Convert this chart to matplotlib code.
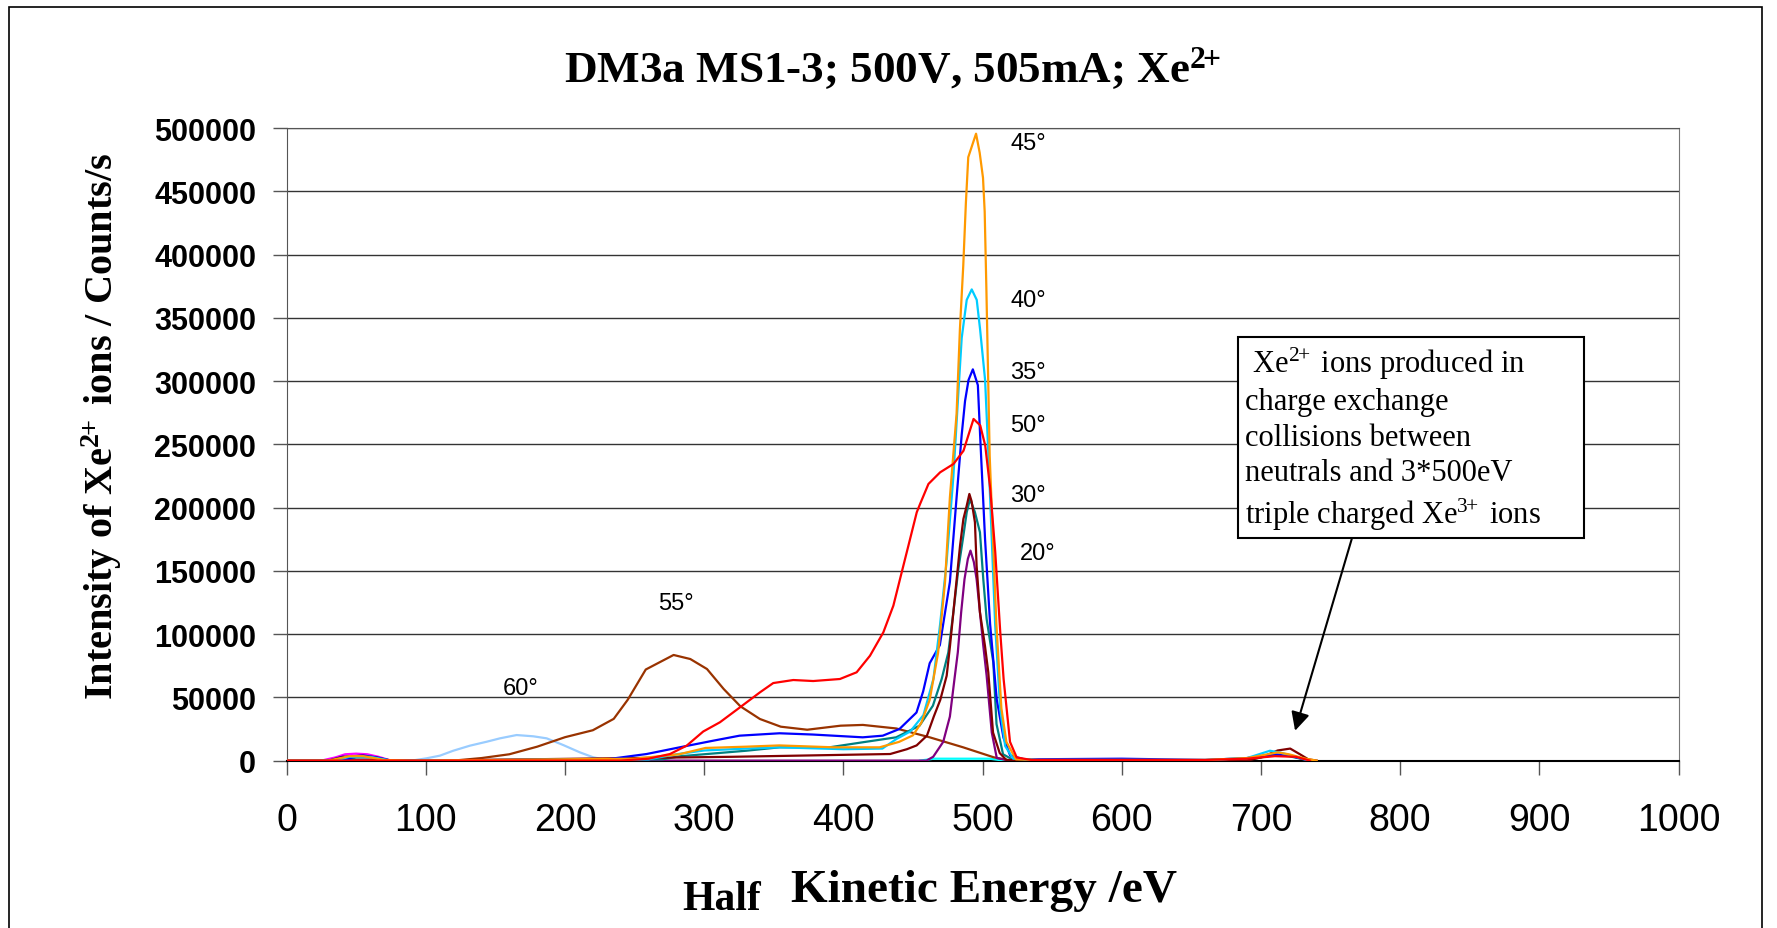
import matplotlib
matplotlib.use('Agg')
import matplotlib.pyplot as plt
from matplotlib.patches import Rectangle

# --- data (energy in eV, intensity in counts/s) ---
e45 = [0, 30, 45, 55, 70, 90, 250, 282, 301, 330, 354, 393, 426, 440, 450, 456, 462, 468, 473, 476.5,
       481.3, 483.7, 486.1, 488, 489.7, 493.3, 495.3, 497.9, 500.3, 501.5, 502.7, 503.9, 505.1, 507.5,
       509.9, 513.5, 517.1, 524, 540, 660, 690, 705, 712, 720, 732, 740]
i45 = [0, 0, 3500, 3500, 500, 0, 1500, 5000, 10000, 11000, 12000, 10500, 10500, 14800, 20000, 30000,
       48000, 85000, 141000, 208000, 274000, 341000, 391000, 441000, 477000, 489000, 495600, 480600,
       460700, 434000, 374100, 307600, 241000, 174500, 108000, 41400, 14800, 1000, 500, 500, 2000,
       5000, 6500, 5000, 1500, 0]

e40 = [0, 35, 45, 60, 75, 260, 280, 300, 330, 354, 400, 428, 438, 448, 457.5, 464.7, 469.5, 474.2, 479,
       482.6, 485, 488.6, 492.2, 495.8, 498.2, 501.8, 504.2, 506.6, 509, 512.6, 516.2, 522, 540, 660,
       690, 706.5, 715, 725, 735]
i40 = [0, 0, 3000, 3000, 0, 1000, 5000, 8000, 9500, 10500, 9000, 9500, 17000, 23000, 36000, 64700,
       108000, 157900, 224500, 290900, 334200, 364200, 372500, 364200, 340900, 300900, 241000,
       174500, 108000, 41400, 11500, 1500, 500, 500, 2000, 7800, 6000, 3000, 0]

e35 = [0, 40, 50, 60, 75, 230, 258.6, 282.4, 306.3, 325.4, 354.1, 378, 413.9, 428.3, 440.3, 452.5,
       457.3, 462, 469.3, 476.5, 481.3, 485, 487.4, 489.9, 493, 496.6, 498.2, 501.8, 505.4, 510.2, 515,
       519.8, 530, 600, 660, 690, 710, 720, 735]
i35 = [0, 0, 3500, 3000, 0, 1000, 5200, 10500, 15700, 19700, 21600, 20600, 18400, 19700, 25000, 38000,
       54700, 77000, 91300, 141200, 207800, 257700, 284300, 300900, 309300, 296800, 257700, 174500,
       108000, 48100, 18100, 4000, 1000, 1500, 500, 2000, 5000, 4000, 0]

e50 = [0, 240, 260, 275.4, 287.4, 299.3, 311.3, 325.7, 340.1, 349.6, 364, 378.3, 397.5, 409.5, 419.1,
       428.7, 435.9, 441.9, 446.7, 452.7, 455.1, 461.1, 469.5, 479.1, 486.3, 493.5, 498.3, 501.9, 505.5,
       509.1, 512.7, 515.1, 519.7, 524.5, 535, 660, 690, 710, 725, 735]
i50 = [0, 0, 1500, 5200, 11800, 23000, 30300, 42100, 54000, 61300, 63700, 62900, 64500, 69800, 82900,
       101400, 122500, 148900, 169900, 196300, 202900, 218700, 227900, 234500, 245000, 270100, 265000,
       249000, 214700, 164700, 101400, 64500, 14800, 2500, 500, 500, 1500, 3500, 3000, 0]

e30 = [0, 100, 320, 433.6, 445.6, 452.6, 460, 465, 469.6, 474.2, 476.6, 480.2, 483.8, 486.2, 488.6,
       490.5, 492.1, 494.5, 495.7, 498.1, 501.7, 504.1, 507.5, 512.3, 517, 530, 690, 700, 712, 721, 728,
       734, 740]
i30 = [0, 0, 3000, 5200, 9000, 12000, 19700, 35000, 48000, 67100, 90800, 130400, 169900, 191000,
       201500, 210800, 205000, 188400, 154100, 117200, 90800, 69800, 22200, 6000, 500, 0, 0, 2500,
       8000, 9500, 5000, 1000, 0]

e_teal = [0, 40, 50, 60, 72, 270, 282.4, 330.2, 354.1, 390, 414, 437.9, 454.7, 464.3, 470.6, 475.4, 479,
          482.6, 486.2, 488.6, 491, 494.5, 498.1, 500.5, 502.9, 507.7, 510, 514.7, 522, 540, 690, 710,
          720, 735]
i_teal = [0, 0, 2500, 2500, 0, 1000, 3400, 7800, 10500, 10500, 14500, 18400, 27600, 43400, 64500,
          85600, 117200, 151500, 177800, 196300, 206800, 196300, 180500, 143400, 112000, 77700, 28900,
          5000, 500, 0, 500, 4500, 3500, 0]

e20 = [0, 459.7, 464.5, 471.7, 476.5, 479.8, 482.2, 484.6, 487, 489.4, 491.3, 493.7, 495.7, 498.1,
       500.5, 502.9, 506.6, 510.2, 520]
i20 = [0, 0, 3000, 14800, 34800, 64500, 85600, 117200, 143400, 159400, 166000, 157000, 143400, 117200,
       90800, 67100, 22200, 2000, 0]

e55 = [0, 120, 140, 160, 180, 200, 220, 235, 245, 258, 278, 290, 302, 314, 326, 340, 355, 374, 398, 414,
       438, 462, 486, 508, 520]
i55 = [0, 0, 2000, 5000, 11000, 18500, 24000, 33000, 48000, 72000, 83500, 80300, 72400, 56600, 42900,
       32900, 26800, 24400, 27600, 28200, 25400, 18400, 10500, 2600, 0]

e60 = [90, 100.5, 110.1, 119.7, 131.7, 143.7, 153.3, 165.2, 177.2, 186.8, 198.7, 210.7, 220.3, 232]
i60 = [0, 1800, 3900, 7800, 11800, 14900, 17600, 20200, 19200, 17600, 12300, 6500, 2600, 0]

e_mag = [25, 35, 42, 50, 58, 66, 75]
i_mag = [0, 2500, 5000, 5500, 5000, 3000, 0]
e_navy = [30, 40, 55, 65, 75]
i_navy = [0, 3000, 4000, 2500, 0]
e_pink = [40, 52, 60, 68]
i_pink = [0, 1500, 1500, 0]
e_aqua = [455, 465, 505, 515]
i_aqua = [0, 1500, 1500, 0]

series = [
    (e60, i60, '#99CCFF'),
    (e_mag, i_mag, '#FF00FF'),
    (e_navy, i_navy, '#000080'),
    (e_pink, i_pink, '#FF99CC'),
    (e_aqua, i_aqua, '#00FFFF'),
    (e55, i55, '#993300'),
    (e20, i20, '#800080'),
    (e_teal, i_teal, '#008080'),
    (e30, i30, '#800000'),
    (e35, i35, '#0000FF'),
    (e40, i40, '#00CCFF'),
    (e45, i45, '#FF9900'),
    (e50, i50, '#FF0000'),
]

angle_labels = [('45°', 520, 488000), ('40°', 520, 364000), ('35°', 520, 307000), ('50°', 520, 265000),
                ('30°', 520, 210000), ('20°', 527, 164000), ('55°', 267, 124500), ('60°', 155, 57300)]

x_ticks = list(range(0, 1001, 100))
y_ticks = list(range(0, 500001, 50000))

plt.rcParams['font.family'] = 'Liberation Sans'
plt.rcParams['mathtext.fontset'] = 'custom'
plt.rcParams['mathtext.rm'] = 'Liberation Serif'
plt.rcParams['mathtext.it'] = 'Liberation Serif:italic'
plt.rcParams['mathtext.bf'] = 'Liberation Serif:bold'

fig = plt.figure(figsize=(17.77, 9.29), dpi=100)
ax = fig.add_axes([0.1613, 0.1802, 0.7833, 0.6808])

for e, i, c in series:
    ax.plot(e, i, color=c, lw=1.6, zorder=3)

ax.set_xlim(0, 1000)
ax.set_ylim(0, 500000)
ax.set_xticks(x_ticks)
ax.set_yticks(y_ticks)
ax.set_xticklabels([str(v) for v in x_ticks], fontsize=27)
ax.set_yticklabels([str(v) for v in y_ticks], fontsize=22, fontweight='bold')
ax.tick_params(axis='y', direction='out', length=10, width=1, color='#555555', pad=12)
ax.tick_params(axis='x', direction='out', length=10, width=1, color='#555555', pad=20)
ax.grid(axis='y', color='#333333', lw=1.0, zorder=1)
ax.spines['left'].set_color('#555555')
ax.spines['right'].set_color('#777777')
ax.spines['top'].set_color('#555555')
ax.spines['bottom'].set_color('black')
ax.spines['bottom'].set_linewidth(1.5)

for txt, x, y in angle_labels:
    ax.text(x, y, txt, fontsize=17, ha='left', va='center', zorder=6)

# annotation box + arrow
ax.add_patch(Rectangle((683.5, 176000), 248.6, 158900, facecolor='white', edgecolor='black',
                       lw=1.5, zorder=5))
box_txt = (' Xe$^{2\\!\\!+}$ ions produced in\ncharge exchange\ncollisions between\n'
           'neutrals and 3*500eV\ntriple charged Xe$^{3\\!\\!+}$ ions')
ax.text(688.5, 329000, box_txt, family='Liberation Serif', fontsize=22, ha='left', va='top',
        linespacing=1.3, zorder=6)
ax.annotate('', xy=(724.5, 23600), xytext=(765.2, 175200),
            arrowprops=dict(arrowstyle='-|>', color='black', lw=1.5, mutation_scale=28,
                            shrinkA=0, shrinkB=0), zorder=6)

fig.text(0.502, 0.911, r'DM3a MS1-3; 500V, 505mA; Xe$^{\mathbf{2\!\!+}}$', family='Liberation Serif',
         fontweight='bold', fontsize=32.5, ha='center', va='baseline')
fig.text(0.0574, 0.5414, r'Intensity of Xe$^{\mathbf{2\!\!+}}$ ions / Counts/s', family='Liberation Serif',
         fontweight='bold', fontsize=29, rotation=90, ha='center', va='center')
fig.text(0.4063, 0.020, 'Half', family='Liberation Serif', fontweight='bold', fontsize=30,
         ha='center', va='baseline')
fig.text(0.5537, 0.029, 'Kinetic Energy /eV', family='Liberation Serif', fontweight='bold', fontsize=34,
         ha='center', va='baseline')

# outer chart border
fig.patches.append(Rectangle((0.005, -0.01), 0.9866, 1.0014, transform=fig.transFigure,
                             fill=False, edgecolor='black', lw=1.2))

fig.savefig('out.png', dpi=100)
